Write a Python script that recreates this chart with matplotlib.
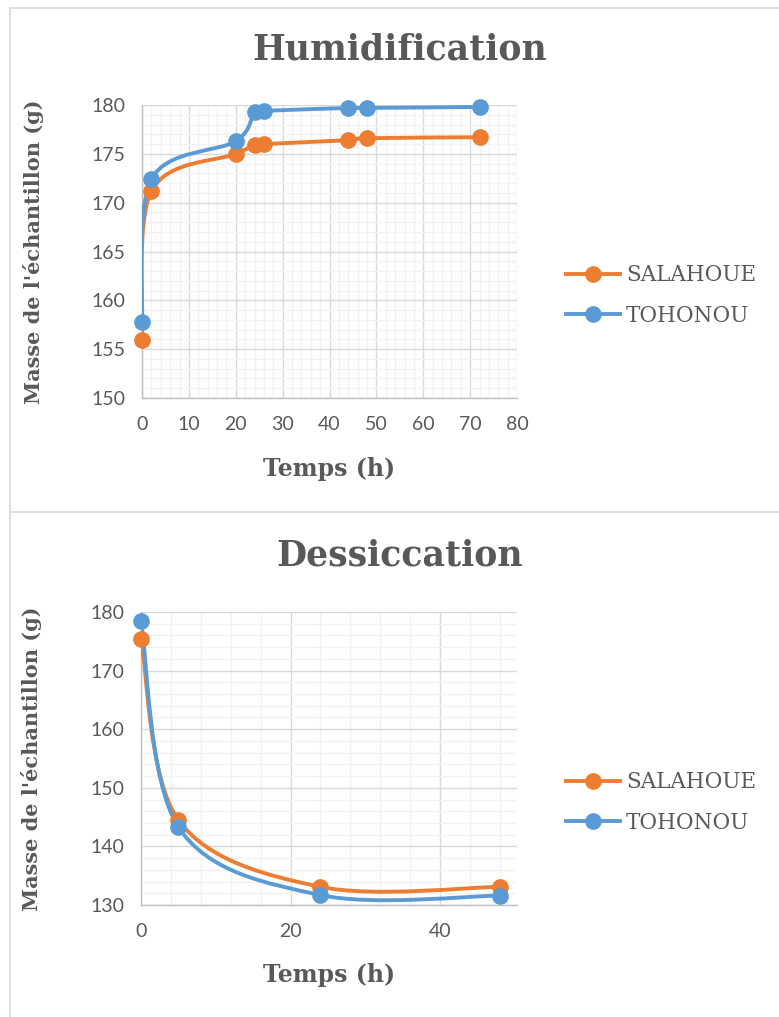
import numpy as np
import matplotlib
matplotlib.use('Agg')
import matplotlib.pyplot as plt
from matplotlib.path import Path
from matplotlib.patches import PathPatch
from matplotlib.lines import Line2D
from matplotlib.ticker import MultipleLocator

# Humidification
hum_t = [0, 2, 20, 24, 26, 44, 48, 72]
hum_salahoue = [155.9, 171.2, 175.0, 175.9, 176.0, 176.4, 176.6, 176.7]
hum_tohonou = [157.8, 172.4, 176.3, 179.3, 179.4, 179.7, 179.7, 179.8]

# Dessiccation
des_t = [0, 5, 24, 48]
des_salahoue = [175.4, 144.5, 133.1, 133.1]
des_tohonou = [178.5, 143.3, 131.7, 131.6]

series_names = ['SALAHOUE', 'TOHONOU']
colors = ['#ED7D31', '#5B9BD5']

W, H = 779, 1017
TXT = '#595959'


def smooth_path(x, y):
    # bezier through the points, like a spreadsheet "smoothed line"
    pts = np.column_stack([x, y]).astype(float)
    verts = [pts[0]]
    codes = [Path.MOVETO]
    n = len(pts)
    for i in range(n - 1):
        p0 = pts[i - 1] if i > 0 else pts[i]
        p1 = pts[i]
        p2 = pts[i + 1]
        p3 = pts[i + 2] if i + 2 < n else pts[i + 1]
        c1 = p1 + (p2 - p0) / 6.0
        c2 = p2 - (p3 - p1) / 6.0
        verts += [c1, c2, p2]
        codes += [Path.CURVE4] * 3
    return Path(verts, codes)


def panel(fig, rect, t, ys, title, xmax, xmaj, xmin, ylo, yhi, ymaj, ymin, title_y, xlab_y):
    ax = fig.add_axes(rect)
    for y, c in zip(ys, colors):
        ax.add_patch(PathPatch(smooth_path(t, y), fill=False, edgecolor=c, lw=2.8,
                               capstyle='round', joinstyle='round', zorder=3))
        ax.plot(t, y, 'o', color=c, ms=11, zorder=4, clip_on=False)
    ax.set_xlim(0, xmax)
    ax.set_ylim(ylo, yhi)
    ax.xaxis.set_major_locator(MultipleLocator(xmaj))
    ax.xaxis.set_minor_locator(MultipleLocator(xmin))
    ax.yaxis.set_major_locator(MultipleLocator(ymaj))
    ax.yaxis.set_minor_locator(MultipleLocator(ymin))
    ax.grid(which='major', color='#d9d9d9', lw=1.0, zorder=0)
    ax.grid(which='minor', color='#f2f2f2', lw=1.0, zorder=0)
    ax.set_axisbelow(True)
    for s in ['top', 'right']:
        ax.spines[s].set_visible(False)
    for s in ['left', 'bottom']:
        ax.spines[s].set_color('#bfbfbf')
        ax.spines[s].set_linewidth(1.0)
    ax.tick_params(which='both', length=0, labelsize=14, labelcolor=TXT)
    ax.tick_params(axis='x', pad=13)
    ax.tick_params(axis='y', pad=12)
    for lab in ax.get_xticklabels() + ax.get_yticklabels():
        lab.set_family('Lato')
    ax.set_ylabel("Masse de l'échantillon (g)", family='DejaVu Serif', fontweight='bold',
                  fontsize=15, color=TXT)
    ax.yaxis.set_label_coords(-0.262, 0.5)
    fig.text(400 / W, title_y, title, family='DejaVu Serif', fontweight='bold',
             fontsize=25, color=TXT, ha='center', va='center')
    fig.text(rect[0] + rect[2] / 2, xlab_y, 'Temps (h)', family='DejaVu Serif',
             fontweight='bold', fontsize=17, color=TXT, ha='center', va='center')
    handles = [Line2D([], [], color=c, lw=2.8, marker='o', ms=11) for c in colors]
    ax.legend(handles, series_names, loc='center left', bbox_to_anchor=(1.13, 0.35),
              frameon=False, prop={'family': 'DejaVu Serif', 'size': 15.5},
              labelcolor=TXT, handlelength=2.5, handletextpad=0.3, labelspacing=0.85,
              borderpad=0, borderaxespad=0)
    return ax


fig = plt.figure(figsize=(W / 100, H / 100), dpi=100)
fig.patch.set_facecolor('white')

# chart frames
fl = dict(color='#d9d9d9', lw=1.2, transform=fig.transFigure)
fig.add_artist(Line2D([10 / W, 1], [1 - 8 / H, 1 - 8 / H], **fl))
fig.add_artist(Line2D([10 / W, 10 / W], [1 - 8 / H, 0], **fl))
fig.add_artist(Line2D([10 / W, 1], [1 - 512 / H, 1 - 512 / H], **fl))

panel(fig, [142 / W, 1 - 398 / H, 375 / W, 293 / H], hum_t, [hum_salahoue, hum_tohonou],
      'Humidification', 80, 10, 2, 150, 180, 5, 1, 1 - 50 / H, 1 - 469 / H)
panel(fig, [141 / W, 1 - 905 / H, 376 / W, 293 / H], des_t, [des_salahoue, des_tohonou],
      'Dessiccation', 50.3, 20, 4, 130, 180, 10, 2, 1 - 556 / H, 1 - 975 / H)

fig.savefig('out.png', dpi=100)
